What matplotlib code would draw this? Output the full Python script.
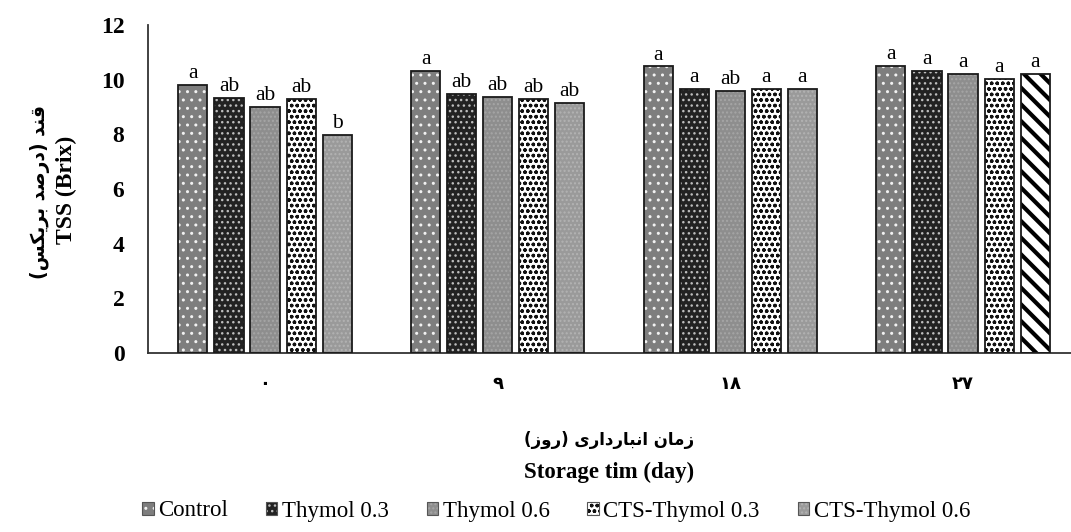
import numpy as np
import matplotlib
matplotlib.use("Agg")
import matplotlib.pyplot as plt
from matplotlib.patches import Patch

# ---------------- data ----------------
days = ['۰', '۹', '۱۸', '۲۷']
treatments = ['Control', 'Thymol 0.3', 'Thymol 0.6', 'CTS-Thymol 0.3', 'CTS-Thymol 0.6']
control = [9.82, 10.33, 10.49, 10.51]
thymol_03 = [9.34, 9.49, 9.67, 10.33]
thymol_06 = [9.01, 9.38, 9.60, 10.22]
cts_thymol_03 = [9.30, 9.30, 9.67, 10.04]
cts_thymol_06 = [7.99, 9.16, 9.67, 10.22]
letters_control = ['a', 'a', 'a', 'a']
letters_thymol_03 = ['ab', 'ab', 'a', 'a']
letters_thymol_06 = ['ab', 'ab', 'ab', 'a']
letters_cts_03 = ['ab', 'ab', 'a', 'a']
letters_cts_06 = ['b', 'ab', 'a', 'a']
yticks = [0, 2, 4, 6, 8, 10, 12]

xlabel_fa = 'زمان انبارداری (روز)'
xlabel_en = 'Storage tim (day)'
ylabel_fa = 'قند (درصد بریکس)'
ylabel_en = 'TSS (Brix)'

series = [control, thymol_03, thymol_06, cts_thymol_03, cts_thymol_06]
letters = [letters_control, letters_thymol_03, letters_thymol_06, letters_cts_03, letters_cts_06]

# ---------------- simple Persian shaping ----------------
FORMS = {
    'ا': ('\uFE8D', '\uFE8E', None, None),
    'ب': ('\uFE8F', '\uFE90', '\uFE91', '\uFE92'),
    'د': ('\uFEA9', '\uFEAA', None, None),
    'ر': ('\uFEAD', '\uFEAE', None, None),
    'ز': ('\uFEAF', '\uFEB0', None, None),
    'س': ('\uFEB1', '\uFEB2', '\uFEB3', '\uFEB4'),
    'ص': ('\uFEB9', '\uFEBA', '\uFEBB', '\uFEBC'),
    'ق': ('\uFED5', '\uFED6', '\uFED7', '\uFED8'),
    'ک': ('\uFB8E', '\uFB8F', '\uFB90', '\uFB91'),
    'م': ('\uFEE1', '\uFEE2', '\uFEE3', '\uFEE4'),
    'ن': ('\uFEE5', '\uFEE6', '\uFEE7', '\uFEE8'),
    'و': ('\uFEED', '\uFEEE', None, None),
    'ی': ('\uFBFC', '\uFBFD', '\uFBFE', '\uFBFF'),
}
MIRROR = {'(': ')', ')': '('}


def shape(text):
    out = []
    for i, ch in enumerate(text):
        if ch not in FORMS:
            out.append(MIRROR.get(ch, ch))
            continue
        prev = text[i - 1] if i > 0 else ''
        nxt = text[i + 1] if i + 1 < len(text) else ''
        jp = prev in FORMS and FORMS[prev][2] is not None
        jn = nxt in FORMS and FORMS[ch][2] is not None
        iso, fin, ini, med = FORMS[ch]
        if jp and jn:
            out.append(med)
        elif jp:
            out.append(fin)
        elif jn:
            out.append(ini)
        else:
            out.append(iso)
    return ''.join(reversed(out))


# ---------------- styles ----------------
styles = [
    dict(face='#7e7e7e', hatch='..', hc='#f2f2f2'),
    dict(face='#222222', hatch='...', hc='#bdbdbd'),
    dict(face='#8e8e8e', hatch='....', hc='#a6a6a6'),
    dict(face='#ffffff', hatch='ooo', hc='#111111'),
    dict(face='#9a9a9a', hatch='....', hc='#b3b3b3'),
]
special = dict(face='#ffffff', hatch='\\\\', hc='#000000')

serif = 'Liberation Serif'
plt.rcParams['hatch.linewidth'] = 1.0

fig = plt.figure(figsize=(10.71, 5.32), dpi=100)
ax = fig.add_axes([148 / 1071, 1 - 353 / 532, (1071 - 148) / 1071, (353 - 25) / 532])

x = np.arange(len(days))
pitch = 0.155
width = 0.125

for i, (vals, st) in enumerate(zip(series, styles)):
    pos = x + (i - 2) * pitch
    for j, (p, v) in enumerate(zip(pos, vals)):
        s = st
        lw_h = 1.0
        if i == 4 and j == 3:
            s = special
            lw_h = 3.0
        with plt.rc_context({'hatch.linewidth': lw_h}):
            ax.bar(p, v, width=width, color=s['face'], hatch=s['hatch'],
                   edgecolor=s['hc'], linewidth=0, zorder=2)
        ax.bar(p, v, width=width, fill=False, edgecolor='#1a1a1a', linewidth=1.3, zorder=3)
        ax.annotate(letters[i][j], (p, v), xytext=(0, 1), textcoords='offset points',
                    ha='center', va='bottom', fontsize=15.5, family=serif)

ax.set_xlim(-0.503, 3.464)
ax.set_ylim(0, 12)
ax.set_yticks(yticks)
ax.set_yticklabels([str(t) for t in yticks], fontsize=17, fontweight='bold', family=serif)
ax.set_xticks(x)
ax.set_xticklabels(days, fontsize=13, fontweight='bold', family='DejaVu Sans')
ax.tick_params(axis='y', length=0, pad=17)
ax.tick_params(axis='x', length=0, pad=16)
for sp in ['top', 'right']:
    ax.spines[sp].set_visible(False)
for sp in ['left', 'bottom']:
    ax.spines[sp].set_linewidth(1.3)
    ax.spines[sp].set_color('#333333')

# axis titles
fig.text(609 / 1071, 1 - 440 / 532, shape(xlabel_fa), ha='center', va='center',
         fontsize=12, fontweight='bold', family='DejaVu Sans')
fig.text(609 / 1071, 1 - 472 / 532, xlabel_en, ha='center', va='center',
         fontsize=16.5, fontweight='bold', family=serif)
fig.text(40 / 1071, 1 - 192 / 532, shape(ylabel_fa), ha='center', va='center', rotation=90,
         fontsize=13.5, fontweight='bold', family='DejaVu Sans')
fig.text(66 / 1071, 1 - 190 / 532, ylabel_en, ha='center', va='center', rotation=90,
         fontsize=17, fontweight='bold', family=serif)

# legend
handles = []
for st in styles:
    handles.append((Patch(facecolor=st['face'], hatch=st['hatch'], edgecolor=st['hc'], linewidth=0),
                    Patch(fill=False, edgecolor='#555555', linewidth=0.8)))
fig.legend(handles, treatments, loc='center', bbox_to_anchor=(556 / 1071, 1 - 511 / 532),
           ncol=5, frameon=False, prop={'family': serif, 'size': 16.5},
           handlelength=0.5, handleheight=0.5, handletextpad=0.2, columnspacing=1.65,
           borderaxespad=0, borderpad=0)

fig.savefig('out.png', dpi=100)
